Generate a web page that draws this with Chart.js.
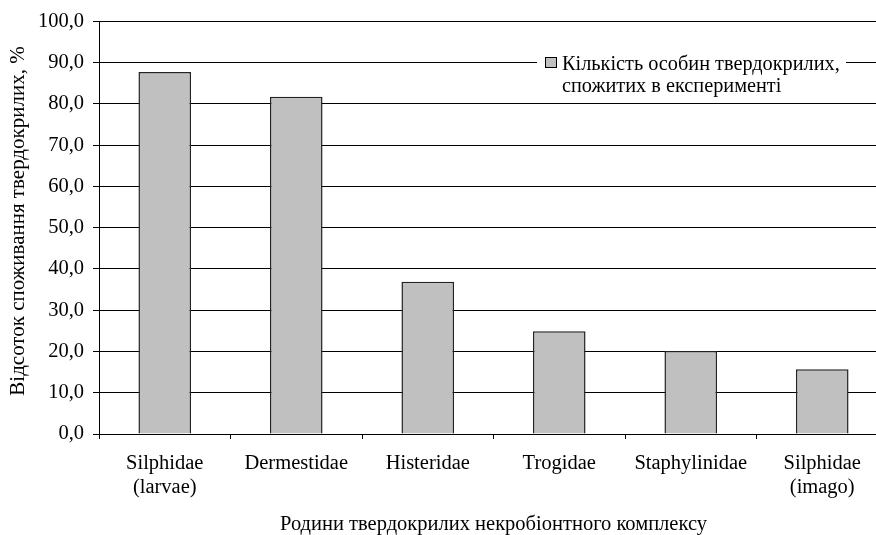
<!DOCTYPE html>
<html>
<head>
<meta charset="utf-8">
<script src="https://cdn.jsdelivr.net/npm/chart.js@4"></script>
<style>
  html, body { margin: 0; padding: 0; background: #fff; overflow: hidden; }
  #wrap { width: 900px; height: 535px; }
</style>
</head>
<body>
<div id="wrap"><canvas id="myChart"></canvas></div>
<script>
// Дані діаграми
const categories = [
  ["Silphidae", "(larvae)"],
  "Dermestidae",
  "Histeridae",
  "Trogidae",
  "Staphylinidae",
  ["Silphidae", "(imago)"]
];
const values = [87.7, 81.7, 36.9, 24.9, 20.1, 15.7];
const seriesName = ["Кількість особин твердокрилих,", "спожитих в експерименті"];
const yTitle = "Відсоток споживання твердокрилих, %";
const xTitle = "Родини твердокрилих некробіонтного комплексу";

const FONT = "'Liberation Serif', 'Times New Roman', serif";

// Легенда та підписи осей малюються вручну
const extras = {
  id: "extras",
  afterDatasetsDraw(chart) {
    const ctx = chart.ctx;
    const area = chart.chartArea;
    ctx.save();
    // легенда
    ctx.fillStyle = "#fff";
    ctx.fillRect(537, 48, 309, 48);
    ctx.fillStyle = "#c0c0c0";
    ctx.fillRect(545, 57, 12, 11);
    ctx.strokeStyle = "#000";
    ctx.lineWidth = 1;
    ctx.strokeRect(545.5, 57.5, 11, 10);
    ctx.fillStyle = "#000";
    ctx.font = "20.3px " + FONT;
    ctx.textBaseline = "alphabetic";
    ctx.textAlign = "left";
    ctx.fillText(seriesName[0], 562, 70);
    ctx.fillText(seriesName[1], 562, 92);
    // назва осі X
    ctx.font = "20.5px " + FONT;
    ctx.textAlign = "center";
    ctx.fillText(xTitle, (area.left + area.right) / 2, 530);
    // назва осі Y
    ctx.font = "21px " + FONT;
    ctx.textBaseline = "middle";
    ctx.translate(18, 221);
    ctx.rotate(-Math.PI / 2);
    ctx.fillText(yTitle, 0, 0);
    ctx.restore();
  }
};

const ctx = document.getElementById("myChart").getContext("2d");

const myChart = new Chart(ctx, {
  type: "bar",
  data: {
    labels: categories,
    datasets: [{
      label: seriesName.join(" "),
      data: values,
      backgroundColor: "#c0c0c0",
      borderColor: "#222",
      borderWidth: 1.5,
      barPercentage: 0.4,
      categoryPercentage: 1.0
    }]
  },
  options: {
    responsive: true,
    maintainAspectRatio: false,
    animation: false,
    layout: { padding: { top: 19, right: 12, left: 0, bottom: 0 } },
    plugins: {
      legend: { display: false },
      tooltip: { enabled: false }
    },
    scales: {
      x: {
        afterFit(scale) { scale.height = 101; },
        grid: {
          offset: true,
          drawOnChartArea: false,
          drawTicks: true,
          tickLength: 5,
          color: "#000"
        },
        border: { color: "#000", width: 1 },
        ticks: {
          color: "#000",
          padding: 13,
          maxRotation: 0,
          autoSkip: false,
          font: { family: FONT, size: 20.5, lineHeight: 1.15 }
        }
      },
      y: {
        min: 0,
        max: 100,
        afterFit(scale) { scale.width = 99; },
        grid: {
          color: "#000",
          lineWidth: 1,
          tickLength: 6
        },
        border: { color: "#000", width: 1 },
        ticks: {
          stepSize: 10,
          color: "#000",
          padding: 9,
          font: { family: FONT, size: 20.5 },
          callback: (v) => v.toFixed(1).replace(".", ",")
        }
      }
    }
  },
  plugins: [extras]
});
</script>
</body>
</html>
